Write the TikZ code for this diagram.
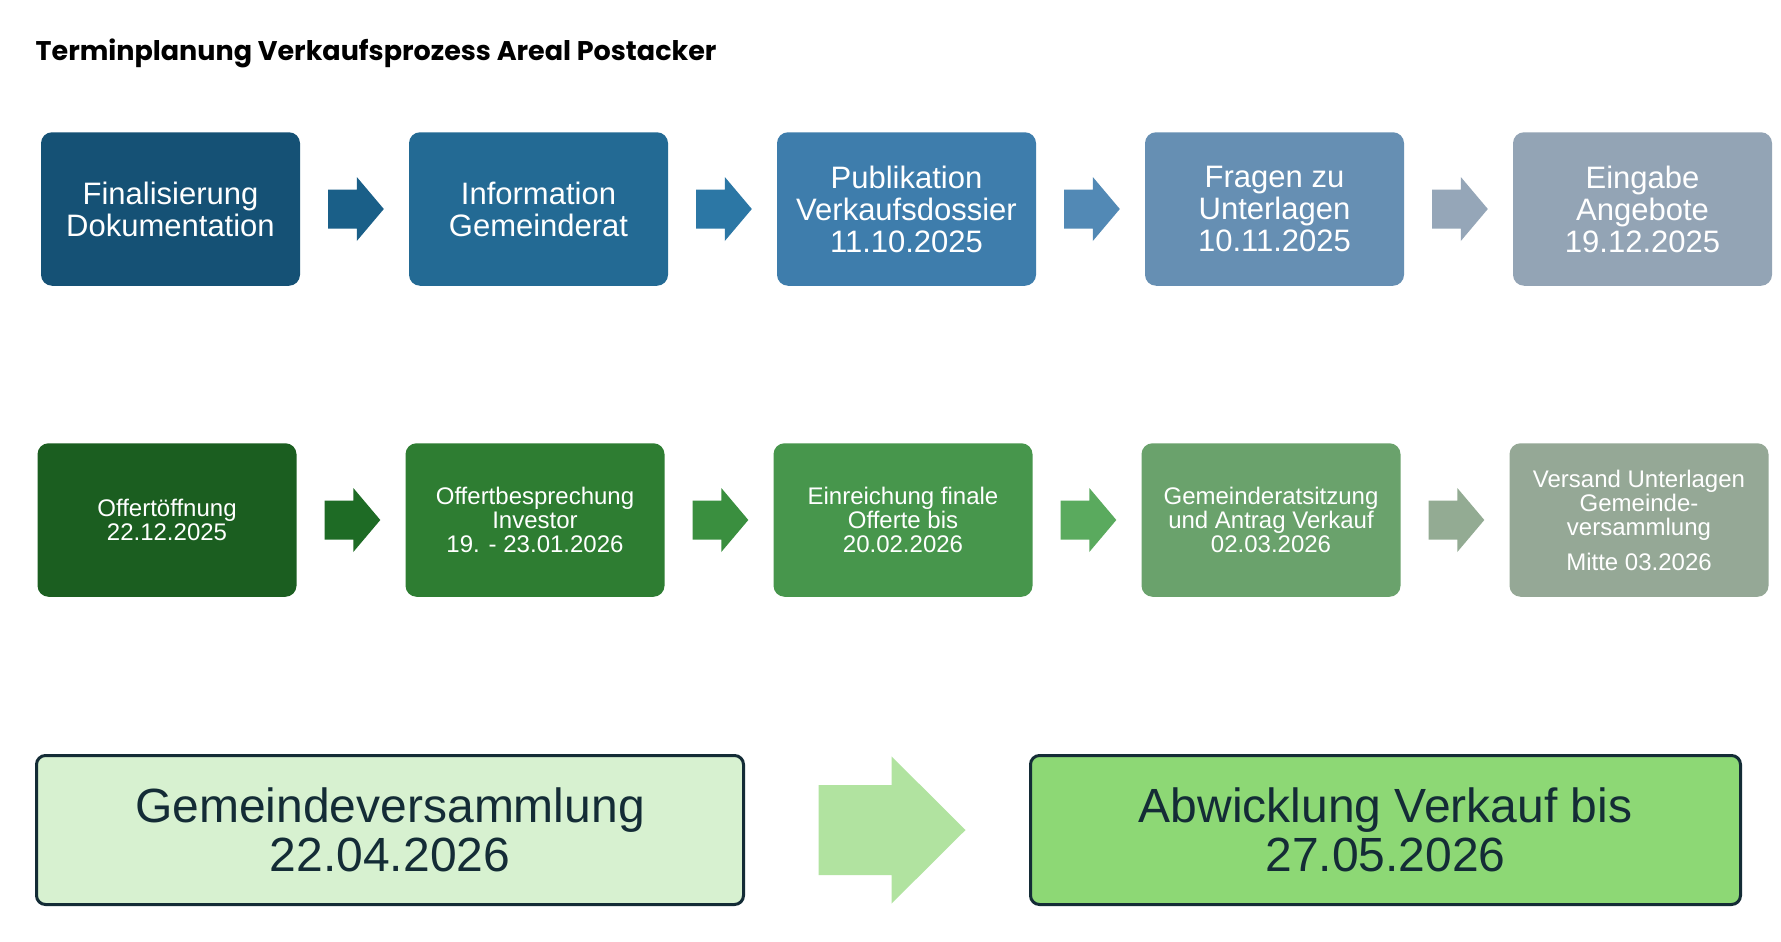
\documentclass[tikz,border=0pt]{standalone}
\usepackage{fontspec}
\setmainfont{Liberation Sans}
\newfontfamily\titlefont{Poppins}
\usepackage{tikz}
\usetikzlibrary{calc}
\definecolor{deepnavy}{HTML}{155175}
\definecolor{harborblue}{HTML}{236A94}
\definecolor{steelblue}{HTML}{3E7DAC}
\definecolor{mistblue}{HTML}{668FB3}
\definecolor{slategrey}{HTML}{93A4B5}
\definecolor{navyarrow}{HTML}{1A5F88}
\definecolor{harborarrow}{HTML}{2C77A5}
\definecolor{steelarrow}{HTML}{5289B5}
\definecolor{mistarrow}{HTML}{95A6B8}
\definecolor{forestdeep}{HTML}{1B5E20}
\definecolor{meadowgreen}{HTML}{2E7D32}
\definecolor{fieldgreen}{HTML}{47964C}
\definecolor{sagegreen}{HTML}{6AA26C}
\definecolor{greysage}{HTML}{95A896}
\definecolor{forestarrow}{HTML}{1E6B25}
\definecolor{meadowarrow}{HTML}{3A8F3F}
\definecolor{fieldarrow}{HTML}{5AAA5E}
\definecolor{sagearrow}{HTML}{93AB93}
\definecolor{palemint}{HTML}{D7F1D0}
\definecolor{springgreen}{HTML}{8DD875}
\definecolor{mintarrow}{HTML}{B1E3A0}
\definecolor{inkdark}{HTML}{142C36}

\tikzset{
  phase/.style={rounded corners=11pt, minimum width=259pt, minimum height=153.5pt, inner sep=0pt, align=center, text=white},
  upper/.style={phase, font=\fontsize{31}{32}\selectfont},
  lower/.style={phase, font=\fontsize{24}{24}\selectfont},
  milestone/.style={rounded corners=9pt, draw=inkdark, line width=3pt, minimum height=149pt, inner sep=0pt, align=center, text=inkdark, font=\fontsize{48}{48.6}\selectfont}
}

% block arrow between two phase boxes
\newcommand{\phasearrow}[3]{%
  \fill[#3] ($(#1.east)+(28,-19.5)$) -- ($(#2.west)+(-52,-19.5)$) -- ($(#2.west)+(-52,-32)$)
    -- ($(#2.west)+(-25,0)$) -- ($(#2.west)+(-52,32)$) -- ($(#2.west)+(-52,19.5)$)
    -- ($(#1.east)+(28,19.5)$) -- cycle;}

\begin{document}
\begin{tikzpicture}[x=1pt, y=-1pt]
  % Page background
  \fill[white] (0,0) rectangle (1781,942);
  \useasboundingbox (0,0) rectangle (1781,942);

  % Title
  \node[anchor=base west, inner sep=0pt, font=\titlefont\bfseries\fontsize{27}{27}\selectfont] (title) at (35.5,60) {Terminplanung Verkaufsprozess Areal Postacker};

  % Top row
  \node[upper, fill=deepnavy] (final) at (170.5,209) {Finalisierung\\Dokumentation};
  \node[upper, fill=harborblue] (info) at (538.5,209) {Information\\Gemeinderat};
  \node[upper, fill=steelblue] (publ) at (906.5,209) {Publikation\\Verkaufsdossier\\11.10.2025};
  \node[upper, fill=mistblue] (fragen) at (1274.5,209) {Fragen zu\\Unterlagen\\10.11.2025};
  \node[upper, fill=slategrey] (eingabe) at (1642.5,209) {Eingabe\\Angebote\\19.12.2025};

  \phasearrow{final}{info}{navyarrow}
  \phasearrow{info}{publ}{harborarrow}
  \phasearrow{publ}{fragen}{steelarrow}
  \phasearrow{fragen}{eingabe}{mistarrow}

  % Second row
  \node[lower, fill=forestdeep] (oeffnung) at (167,520) {Offertöffnung\\22.12.2025};
  \node[lower, fill=meadowgreen] (bespr) at (535,520) {Offertbesprechung\\Investor\\19. - 23.01.2026};
  \node[lower, fill=fieldgreen] (einr) at (903,520) {Einreichung finale\\Offerte bis\\20.02.2026};
  \node[lower, fill=sagegreen] (grsitz) at (1271,520) {Gemeinderatsitzung\\und Antrag Verkauf\\02.03.2026};
  \node[lower, fill=greysage] (versand) at (1639,520) {Versand Unterlagen\\Gemeinde-\\versammlung\\[11pt]Mitte 03.2026};

  \phasearrow{oeffnung}{bespr}{forestarrow}
  \phasearrow{bespr}{einr}{meadowarrow}
  \phasearrow{einr}{grsitz}{fieldarrow}
  \phasearrow{grsitz}{versand}{sagearrow}

  % Bottom milestones
  \node[milestone, fill=palemint, minimum width=707pt] (gv) at (390,830) {Gemeindeversammlung\\22.04.2026};
  \node[milestone, fill=springgreen, minimum width=710pt] (abw) at (1385.5,830) {Abwicklung Verkauf bis\\27.05.2026};

  \fill[mintarrow] ($(gv.east)+(73.5,-45)$) -- ($(abw.west)+(-137.5,-45)$) -- ($(abw.west)+(-137.5,-73.6)$)
    -- ($(abw.west)+(-63.5,0)$) -- ($(abw.west)+(-137.5,73.6)$) -- ($(abw.west)+(-137.5,45)$)
    -- ($(gv.east)+(73.5,45)$) -- cycle;
\end{tikzpicture}
\end{document}
